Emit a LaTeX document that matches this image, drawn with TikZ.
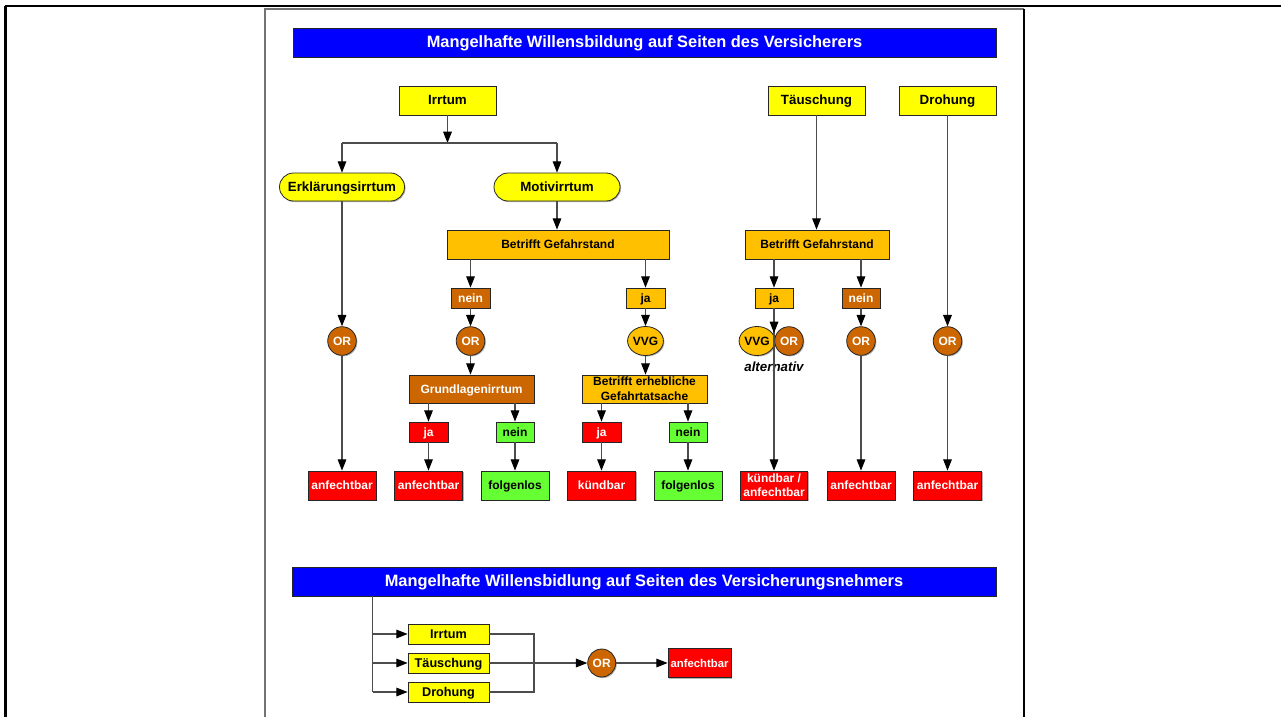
\documentclass[tikz,border=0pt]{standalone}
\usepackage{fontspec}
\setmainfont{Liberation Sans}
\usetikzlibrary{arrows.meta,shapes.geometric,shadows}
\definecolor{cYel}{HTML}{FFFF00}
\definecolor{cOra}{HTML}{FFC000}
\definecolor{cBro}{HTML}{CC6600}
\definecolor{cRed}{HTML}{FF0000}
\definecolor{cGrn}{HTML}{66FF33}
\definecolor{cBlu}{HTML}{0000FF}
\begin{document}
\begin{tikzpicture}[x=0.75pt,y=-0.75pt,
  sz/.style 2 args={minimum width=#1*0.75pt,minimum height=#2*0.75pt},
  base/.style={draw=black!85,line width=0.6pt,inner sep=0pt,align=center,font=\bfseries\fontsize{9pt}{10pt}\selectfont,
     text height=1.62ex,text depth=0.38ex,
     drop shadow={shadow xshift=0.8pt,shadow yshift=-0.8pt,fill=black!30,opacity=1}},
  twoline/.style={text height={},text depth={}},
  ybox/.style={base,fill=cYel,text=black},
  obox/.style={base,fill=cOra,text=black},
  bbox/.style={base,fill=cBro,text=white},
  rbox/.style={base,fill=cRed,text=white},
  gbox/.style={base,fill=cGrn,text=black},
  titlebar/.style={base,fill=cBlu,text=white,font=\bfseries\fontsize{12.3pt}{14pt}\selectfont,text height=1.75ex,text depth=0.25ex},
  orc/.style={base,circle,fill=cBro,text=white,minimum size=28.6*0.75pt},
  vvgc/.style={base,ellipse,fill=cOra,text=black,sz={33}{29}},
  big/.style={font=\bfseries\fontsize{10pt}{12pt}\selectfont},
  ln/.style={draw=black!70,line width=0.8pt},
  arr/.style={ln,-{Triangle[length=8.5pt,width=6.5pt,color=black]}}
]
\useasboundingbox (0,0) rectangle (1281,717);
% frames
\draw[line width=1.6pt] (5,6) -- (1281,6);
\draw[line width=1.6pt] (5.5,6) -- (5.5,717);
\draw[draw=black!55,line width=0.8pt] (265,717) -- (265,9) -- (1024,9);
\draw[line width=0.8pt] (1024,9) -- (1024,717);

% ---------- upper part ----------
\node[titlebar,sz={703}{29}] (t1) at (644.5,42.5) {Mangelhafte Willensbildung auf Seiten des Versicherers};

\node[ybox,big,sz={97}{29}] (irr) at (447.5,100.5) {Irrtum};
\node[ybox,big,sz={97}{29}] (tau) at (816.5,100.5) {Täuschung};
\node[ybox,big,sz={97}{29}] (dro) at (947.5,100.5) {Drohung};

\coordinate (bus) at (447.5,143);
\node[ybox,big,rounded corners=10.5pt,sz={125}{28}] (erk) at (342,187) {Erklärungsirrtum};
\node[ybox,big,rounded corners=10.5pt,sz={126}{28}] (mot) at (557,187) {Motivirrtum};

\node[obox,sz={222}{29}] (bg1) at (558,244.5) {Betrifft Gefahrstand};
\node[obox,sz={144}{29}] (bg2) at (817,244.5) {Betrifft Gefahrstand};

\node[bbox,sz={39}{20}] (nein1) at (470.5,298) {nein};
\node[obox,sz={39}{20}] (ja1) at (645.5,298) {ja};
\node[obox,sz={38}{20}] (ja2) at (774,298) {ja};
\node[bbox,sz={38}{20}] (nein2) at (861,298) {nein};

\node[orc] (or1) at (342,341) {OR};
\node[orc] (or2) at (470.5,341) {OR};
\node[vvgc] (vvg1) at (645.5,341) {VVG};
\node[vvgc,sz={32}{29}] (vvg2) at (757,341) {VVG};
\node[orc] (or3) at (789,341) {OR};
\node[orc] (or4) at (861,341) {OR};
\node[orc] (or5) at (947.5,341) {OR};

\node[bbox,sz={125}{28}] (grl) at (471.5,389) {Grundlagenirrtum};
\node[obox,twoline,sz={125}{28},font=\bfseries\fontsize{9pt}{11.2pt}\selectfont] (bet) at (644.5,389) {Betrifft erhebliche\\Gefahrtatsache};

\node[rbox,sz={39}{20}] (ja3) at (428.5,432) {ja};
\node[gbox,sz={38}{20}] (nein3) at (515,432) {nein};
\node[rbox,sz={39}{20}] (ja4) at (601.5,432) {ja};
\node[gbox,sz={38}{20}] (nein4) at (688,432) {nein};

\node[rbox,sz={68}{29}] (a1) at (342,485.5) {anfechtbar};
\node[rbox,sz={68}{29}] (a2) at (428.5,485.5) {anfechtbar};
\node[gbox,sz={68}{29}] (f1) at (515,485.5) {folgenlos};
\node[rbox,sz={68}{29}] (k1) at (601.5,485.5) {kündbar};
\node[gbox,sz={68}{29}] (f2) at (688,485.5) {folgenlos};
\node[rbox,twoline,sz={67}{29},font=\bfseries\fontsize{9pt}{10.2pt}\selectfont] (ka) at (774,485.5) {kündbar /\\anfechtbar};
\node[rbox,sz={68}{29}] (a3) at (861,485.5) {anfechtbar};
\node[rbox,sz={68}{29}] (a4) at (947.5,485.5) {anfechtbar};

\node[inner sep=0pt,font=\bfseries\itshape\fontsize{10pt}{11pt}\selectfont] (alt) at (774,367) {alternativ};

% connectors upper
\draw[arr] (irr) -- (bus);
\draw[ln] (bus) -- (bus -| erk);
\draw[ln] (bus) -- (bus -| mot);
\draw[arr] (bus -| erk) -- (erk);
\draw[arr] (bus -| mot) -- (mot);
\draw[arr] (mot) -- (mot |- bg1.north);
\draw[arr] (erk) -- (or1);
\draw[arr] (or1) -- (a1);

\draw[arr] (nein1 |- bg1.south) -- (nein1);
\draw[arr] (nein1) -- (or2);
\draw[arr] (or2) -- (or2 |- grl.north);
\draw[arr] (ja3 |- grl.south) -- (ja3);
\draw[arr] (nein3 |- grl.south) -- (nein3);
\draw[arr] (ja3) -- (a2);
\draw[arr] (nein3) -- (f1);

\draw[arr] (ja1 |- bg1.south) -- (ja1);
\draw[arr] (ja1) -- (vvg1);
\draw[arr] (vvg1) -- (vvg1 |- bet.north);
\draw[arr] (ja4 |- bet.south) -- (ja4);
\draw[arr] (nein4 |- bet.south) -- (nein4);
\draw[arr] (ja4) -- (k1);
\draw[arr] (nein4) -- (f2);

\draw[arr] (tau) -- (tau |- bg2.north);
\draw[arr] (ja2 |- bg2.south) -- (ja2);
\draw[arr] (nein2 |- bg2.south) -- (nein2);
\coordinate (altTip) at (774,333);
\draw[arr] (ja2) -- (ka);
\draw[arr] (ja2) -- (altTip);
\draw[arr] (nein2) -- (or4);
\draw[arr] (or4) -- (a3);
\draw[arr] (dro) -- (or5);
\draw[arr] (or5) -- (a4);

% ---------- lower part ----------
\node[titlebar,sz={704}{29}] (t2) at (644,581.5) {Mangelhafte Willensbidlung auf Seiten des Versicherungsnehmers};
\node[ybox,sz={81}{20},font=\bfseries\fontsize{9.5pt}{10pt}\selectfont] (bi) at (448.5,634) {Irrtum};
\node[ybox,sz={81}{20},font=\bfseries\fontsize{9.5pt}{10pt}\selectfont] (bt) at (448.5,663) {Täuschung};
\node[ybox,sz={81}{20},font=\bfseries\fontsize{9.5pt}{10pt}\selectfont] (bd) at (448.5,692) {Drohung};
\node[orc,minimum size=28*0.75pt] (orB) at (601.7,663) {OR};
\node[rbox,sz={63}{29},font=\bfseries\fontsize{8.5pt}{10pt}\selectfont] (aB) at (699.5,663) {anfechtbar};

\coordinate (spine) at (372.7,596);
\coordinate (jx) at (534,663);
\draw[ln] (spine) -- (spine |- bd);
\draw[arr] (spine |- bi) -- (bi);
\draw[arr] (spine |- bt) -- (bt);
\draw[arr] (spine |- bd) -- (bd);
\draw[ln] (bi.east) -- (bi.east -| jx) -- (bd.east -| jx) -- (bd.east);
\draw[arr] (bt) -- (orB);
\draw[arr] (orB) -- (aB);
\end{tikzpicture}
\end{document}
